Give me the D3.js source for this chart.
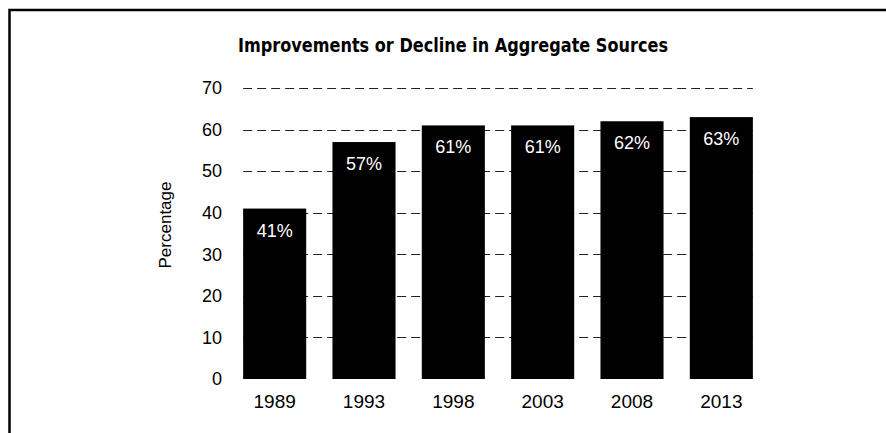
<!DOCTYPE html>
<html>
<head>
<meta charset="utf-8">
<script src="https://cdn.jsdelivr.net/npm/d3@7"></script>
<style>
    body { margin: 0; background: #fff; }
    svg { display: block; }
</style>
</head>
<body>
<div id="chart"></div>
<script>
// data
const years = ["1989", "1993", "1998", "2003", "2008", "2013"];
const percents = [41, 57, 61, 61, 62, 63];
const yTicks = [0, 10, 20, 30, 40, 50, 60, 70];

const size = {width: 886, height: 433};
const plot = {left: 230, right: 766, top: 88, bottom: 379};

const svg = d3.select("#chart").append("svg")
    .attr("width", size.width)
    .attr("height", size.height);

// scanned frame: only top and left edges survived
svg.append("path")
    .attr("d", "M886,10H9.5V433")
    .attr("fill", "none")
    .attr("stroke", "#000")
    .attr("stroke-width", 2.5);

const x = d3.scaleBand()
    .domain(years)
    .range([plot.left, plot.right])
    .paddingInner(0.294)
    .paddingOuter(0.147);

const y = d3.scaleLinear()
    .domain([0, 70])
    .range([plot.bottom, plot.top]);

// dashed gridlines, behind the bars
const gridX0 = x(years[0]);
const gridX1 = x(years[years.length - 1]) + x.bandwidth();
svg.append("g")
    .attr("class", "grid")
    .selectAll("line")
    .data(yTicks.filter(t => t > 0))
    .join("line")
    .attr("x1", gridX0)
    .attr("x2", gridX1)
    .attr("y1", d => Math.round(y(d)) + 0.5)
    .attr("y2", d => Math.round(y(d)) + 0.5)
    .attr("stroke", "#222")
    .attr("stroke-width", 1.2)
    .attr("stroke-dasharray", "9,5");

// y axis: labels only
const yAxis = svg.append("g")
    .attr("transform", "translate(" + (plot.left - 8) + ",0)")
    .call(d3.axisLeft(y).tickValues(yTicks).tickSize(0).tickPadding(0));
yAxis.select(".domain").remove();
yAxis.selectAll("text")
    .attr("font-family", "Liberation Sans, Arial, sans-serif")
    .attr("font-size", 18)
    .attr("fill", "#000");

// x axis: labels only
const xAxis = svg.append("g")
    .attr("transform", "translate(0," + plot.bottom + ")")
    .call(d3.axisBottom(x).tickSize(0).tickPadding(16));
xAxis.select(".domain").remove();
xAxis.selectAll("text")
    .attr("font-family", "Liberation Sans, Arial, sans-serif")
    .attr("font-size", 19)
    .attr("fill", "#000");

// bars
const barG = svg.selectAll(".barG")
    .data(years.map((yr, i) => ({year: yr, value: percents[i]})))
    .join("g")
    .attr("class", "barG");

barG.append("rect")
    .attr("x", d => x(d.year))
    .attr("y", d => y(d.value))
    .attr("width", x.bandwidth())
    .attr("height", d => y(0) - y(d.value))
    .attr("fill", "#000");

barG.append("text")
    .attr("x", d => x(d.year) + x.bandwidth() / 2)
    .attr("y", d => y(d.value) + 28)
    .attr("text-anchor", "middle")
    .attr("font-family", "Liberation Sans, Arial, sans-serif")
    .attr("font-size", 18)
    .attr("fill", "#fff")
    .text(d => d.value + "%");

// title
svg.append("text")
    .attr("x", 453)
    .attr("y", 52)
    .attr("text-anchor", "middle")
    .attr("font-family", "Liberation Sans Narrow, DejaVu Sans Condensed, Arial Narrow, sans-serif")
    .attr("font-weight", "bold")
    .attr("font-size", 20)
    .attr("textLength", 430)
    .attr("lengthAdjust", "spacingAndGlyphs")
    .attr("fill", "#000")
    .text("Improvements or Decline in Aggregate Sources");

// y axis title
svg.append("text")
    .attr("transform", "translate(171,225) rotate(-90)")
    .attr("text-anchor", "middle")
    .attr("font-family", "Liberation Sans, Arial, sans-serif")
    .attr("font-size", 17)
    .attr("fill", "#000")
    .text("Percentage");
</script>
</body>
</html>
